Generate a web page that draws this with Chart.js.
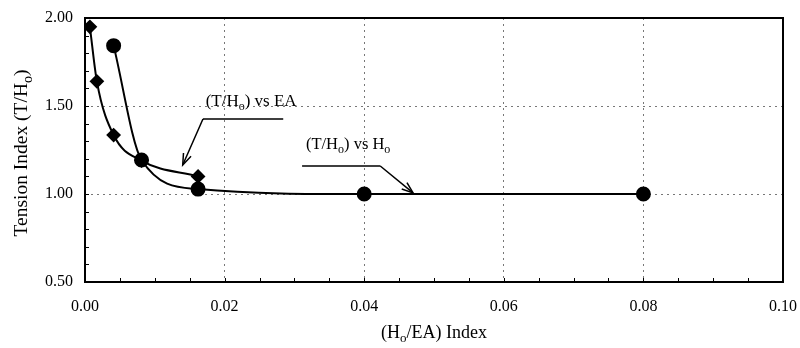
<!DOCTYPE html>
<html>
<head>
<meta charset="utf-8">
<script src="https://cdn.jsdelivr.net/npm/chart.js@4/dist/chart.umd.min.js"></script>
<style>
  html, body { margin: 0; padding: 0; background: #fff; }
  #wrap { width: 800px; height: 348px; }
</style>
</head>
<body>
<div id="wrap"><canvas id="chart"></canvas></div>
<script>
// data
const eaX = [0.0007, 0.0017, 0.0041, 0.0081, 0.0162];
const eaY = [1.95, 1.64, 1.335, 1.19, 1.10];
const hoX = [0.0041, 0.0081, 0.0162, 0.040, 0.080];
const hoY = [1.843, 1.193, 1.028, 1.00, 1.00];
const xTicks = [0.00, 0.02, 0.04, 0.06, 0.08, 0.10];
const yTicks = [0.50, 1.00, 1.50, 2.00];

const FONT = '"Liberation Serif", "Times New Roman", serif';

function pts(xs, ys) {
  return xs.map((x, i) => ({ x: x, y: ys[i] }));
}

// text with "o" subscripts; parts: [text, isSub]
function drawRich(ctx, parts, x, y, size, align) {
  const subSize = Math.round(size * 0.7);
  let w = 0;
  parts.forEach(p => {
    ctx.font = (p[1] ? subSize : size) + 'px ' + FONT;
    w += ctx.measureText(p[0]).width;
  });
  let cx = align === 'center' ? x - w / 2 : x;
  ctx.textBaseline = 'middle';
  ctx.textAlign = 'left';
  parts.forEach(p => {
    ctx.font = (p[1] ? subSize : size) + 'px ' + FONT;
    ctx.fillText(p[0], cx, p[1] ? y + size * 0.3 : y);
    cx += ctx.measureText(p[0]).width;
  });
}

const decor = {
  id: 'decor',
  afterDatasetsDraw(chart) {
    const { ctx, chartArea: a, scales } = chart;
    const sx = scales.x, sy = scales.y;
    ctx.save();
    // frame
    ctx.strokeStyle = '#000';
    ctx.lineWidth = 2;
    ctx.strokeRect(a.left, a.top, a.right - a.left, a.bottom - a.top);
    // inner minor ticks
    ctx.lineWidth = 1;
    ctx.beginPath();
    for (let v = 0.005; v < 0.1; v += 0.005) {
      const px = Math.round(sx.getPixelForValue(v)) + 0.5;
      ctx.moveTo(px, a.bottom); ctx.lineTo(px, a.bottom - 4);
    }
    for (let v = 0.6; v < 2.0; v += 0.1) {
      const py = Math.round(sy.getPixelForValue(v)) + 0.5;
      ctx.moveTo(a.left, py); ctx.lineTo(a.left + 4, py);
    }
    ctx.stroke();

    // annotations (in data units)
    ctx.fillStyle = '#000';
    ctx.strokeStyle = '#000';
    ctx.lineWidth = 1.5;
    const P = (x, y) => [sx.getPixelForValue(x), sy.getPixelForValue(y)];
    function leader(x1, x2, y, tx, ty, fromLeft) {
      const a1 = P(x1, y), a2 = P(x2, y), t = P(tx, ty);
      const s = fromLeft ? a1 : a2;
      ctx.beginPath();
      ctx.moveTo(a2[0], a2[1]); ctx.lineTo(a1[0], a1[1]);
      ctx.moveTo(s[0], s[1]); ctx.lineTo(t[0], t[1]);
      ctx.stroke();
      const ang = Math.atan2(t[1] - s[1], t[0] - s[0]);
      const L = 12, W = 0.35;
      ctx.beginPath();
      ctx.moveTo(t[0] - L * Math.cos(ang - W), t[1] - L * Math.sin(ang - W));
      ctx.lineTo(t[0], t[1]);
      ctx.lineTo(t[0] - L * Math.cos(ang + W), t[1] - L * Math.sin(ang + W));
      ctx.stroke();
    }
    leader(0.0169, 0.0284, 1.426, 0.0140, 1.165, true);
    leader(0.0311, 0.0423, 1.159, 0.0470, 1.006, false);

    let p = P(0.0238, 1.525);
    drawRich(ctx, [['(T/H', false], ['o', true], [') vs EA', false]], p[0], p[1], 17, 'center');
    p = P(0.0377, 1.278);
    drawRich(ctx, [['(T/H', false], ['o', true], [') vs H', false], ['o', true]], p[0], p[1], 16.5, 'center');

    // axis titles
    drawRich(ctx, [['(H', false], ['o', true], ['/EA) Index', false]], 434, 333, 18, 'center');
    ctx.save();
    ctx.translate(22, 153);
    ctx.rotate(-Math.PI / 2);
    drawRich(ctx, [['Tension Index (T/H', false], ['o', true], [')', false]], 0, 0, 19.5, 'center');
    ctx.restore();
    ctx.restore();
  }
};

new Chart(document.getElementById('chart'), {
  type: 'scatter',
  data: {
    datasets: [
      {
        label: '(T/Ho) vs EA',
        data: pts(eaX, eaY),
        showLine: true,
        borderColor: '#000',
        backgroundColor: '#000',
        borderWidth: 2,
        pointStyle: 'rectRot',
        pointRadius: 6,
        cubicInterpolationMode: 'monotone'
      },
      {
        label: '(T/Ho) vs Ho',
        data: pts(hoX, hoY),
        showLine: true,
        borderColor: '#000',
        backgroundColor: '#000',
        borderWidth: 2,
        pointStyle: 'circle',
        pointRadius: 6.5,
        cubicInterpolationMode: 'monotone'
      }
    ]
  },
  options: {
    responsive: true,
    maintainAspectRatio: false,
    animation: false,
    layout: { padding: { left: 0, right: 17, top: 18, bottom: 0 } },
    plugins: { legend: { display: false }, tooltip: { enabled: false } },
    scales: {
      x: {
        type: 'linear',
        min: 0, max: 0.1,
        afterBuildTicks: s => { s.ticks = xTicks.map(v => ({ value: v })); },
        afterFit: s => { s.height = 66; s.paddingLeft = 0; s.paddingRight = 0; },
        border: { display: false, dash: [2, 4] },
        grid: {
          drawTicks: false,
          color: '#777',
          lineWidth: 1
        },
        ticks: {
          padding: 15,
          color: '#000',
          font: { family: FONT, size: 16 },
          callback: v => v.toFixed(2)
        }
      },
      y: {
        type: 'linear',
        min: 0.5, max: 2.0,
        afterBuildTicks: s => { s.ticks = yTicks.map(v => ({ value: v })); },
        afterFit: s => { s.width = 85; s.paddingTop = 0; s.paddingBottom = 0; },
        border: { display: false, dash: [2, 4] },
        grid: {
          drawTicks: false,
          color: '#777',
          lineWidth: 1
        },
        ticks: {
          padding: 12,
          color: '#000',
          font: { family: FONT, size: 16 },
          callback: v => v.toFixed(2)
        }
      }
    }
  },
  plugins: [decor]
});
</script>
</body>
</html>
